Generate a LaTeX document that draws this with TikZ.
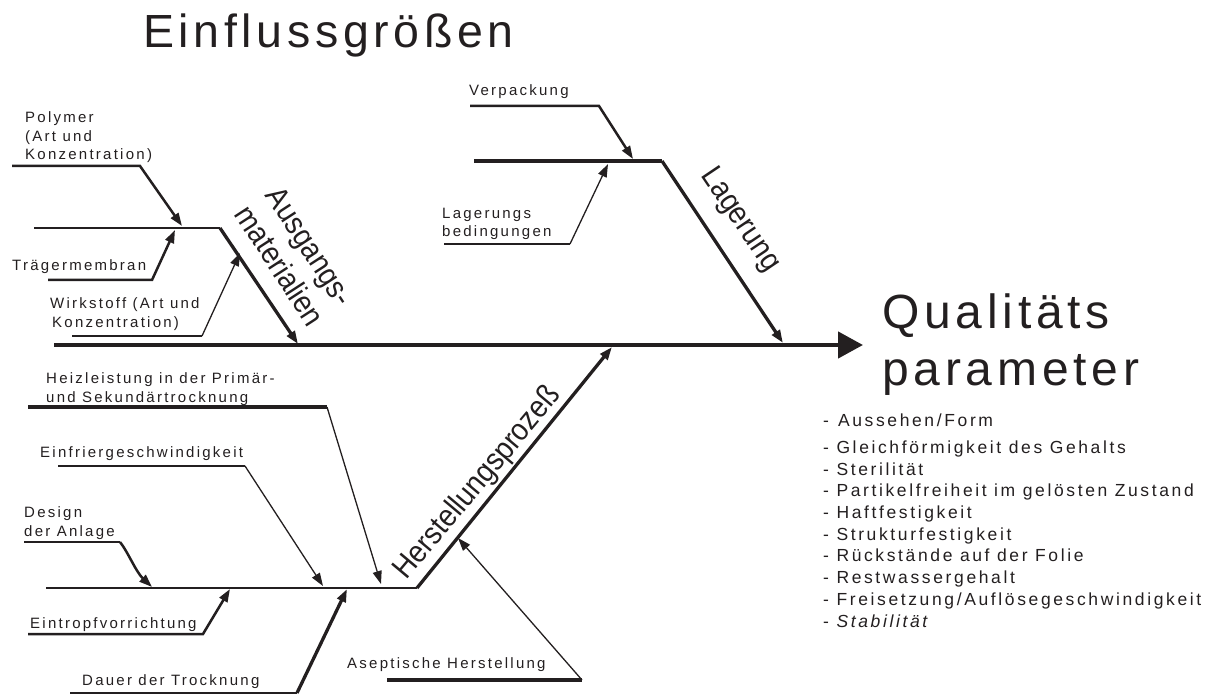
\documentclass[tikz,border=0pt]{standalone}
\usepackage{fontspec}
\setmainfont{Liberation Sans}
\newfontfamily\labfont[LetterSpace=15]{Liberation Sans}
\newfontfamily\bigfont[LetterSpace=10]{Liberation Sans}
\newfontfamily\catfont[FakeStretch=0.9]{Liberation Sans}
\usetikzlibrary{arrows.meta}
\definecolor{ink}{RGB}{35,31,32}
\tikzset{
  lab/.style={font=\labfont\fontsize{15}{18.5}\selectfont, inner sep=0pt, anchor=base west, align=left, text=ink},
  cat/.style={font=\catfont\fontsize{31}{36}\selectfont, inner sep=0pt, align=center, text=ink},
  arrowhd/.style={-{Triangle[length=13pt,width=9pt]}},
  thinl/.style={draw=ink, line width=1.3pt},
  midl/.style={draw=ink, line width=2.5pt},
  thickl/.style={draw=ink, line width=3.3pt},
  heavyl/.style={draw=ink, line width=4.5pt},
}
\begin{document}
\begin{tikzpicture}[x=1pt,y=-1pt]
\useasboundingbox (0,0) rectangle (1224,695);

% titles (base anchor of a multi-line node = baseline of its last line)
\node[font=\bigfont\fontsize{46.5}{50}\selectfont, inner sep=0pt, anchor=base west, text=ink] (title) at (143,48) {Einflussgrößen};
\node[font=\bigfont\fontsize{48}{57}\selectfont, inner sep=0pt, anchor=base west, align=left, text=ink] (qp) at (882,385) {Qualitäts\\parameter};
\node[font=\labfont\fontsize{17.5}{21.7}\selectfont, inner sep=0pt, anchor=base west, align=left, text=ink] (list) at (823,627)
 {-\hspace{9pt}Aussehen/Form\\[5pt]
  - Gleichförmigkeit des Gehalts\\
  - Sterilität\\
  - Partikelfreiheit im gelösten Zustand\\
  - Haftfestigkeit\\
  - Strukturfestigkeit\\
  - Rückstände auf der Folie\\
  - Restwassergehalt\\
  - Freisetzung/Auflösegeschwindigkeit\\
  - {\itshape Stabilität}};

% spine
\coordinate (m0) at (54,345);
\coordinate (m1) at (863,345);
\draw[heavyl, -{Triangle[length=25pt,width=26pt]}] (m0) -- (m1);

% Ausgangsmaterialien
\coordinate (a0) at (34,228); \coordinate (a1) at (220,228); \coordinate (a2) at (298,344);
\draw[midl] (a0) -- (a1);
\draw[thickl, arrowhd] (a1) -- (a2);
\node[cat, rotate=-57] (acat) at (295,256) {Ausgangs-\\materialien};

\coordinate (p0) at (12,166); \coordinate (p1) at (140,166); \coordinate (p2) at (182,226);
\draw[midl, arrowhd] (p0) -- (p1) -- (p2);
\node[lab] (poly) at (25,160) {Polymer\\(Art und\\Konzentration)};

\coordinate (t0) at (48,280); \coordinate (t1) at (152,280); \coordinate (t2) at (175,230);
\draw[midl, arrowhd] (t0) -- (t1) -- (t2);
\node[lab] (traeger) at (12,270) {Trägermembran};

\coordinate (w0) at (72,336); \coordinate (w1) at (202,336); \coordinate (w2) at (240,253);
\draw[midl] (w0) -- (w1);
\draw[thinl, arrowhd] (w1) -- (w2);
\node[lab] (wirk) at (50,327) {Wirkstoff (Art und\\\hspace{2pt}Konzentration)};

% Lagerung
\coordinate (l0) at (474,161); \coordinate (l1) at (662,161); \coordinate (l2) at (783,343);
\draw[heavyl] (l0) -- (l1);
\draw[thickl, arrowhd] (l1) -- (l2);
\node[cat, rotate=-56] (lcat) at (740,220) {Lagerung};

\coordinate (v0) at (470,106); \coordinate (v1) at (599,106); \coordinate (v2) at (633,159);
\draw[midl, arrowhd] (v0) -- (v1) -- (v2);
\node[lab] (verp) at (469,96) {Verpackung};

\coordinate (b0) at (444,244); \coordinate (b1) at (570,244); \coordinate (b2) at (608,164);
\draw[midl] (b0) -- (b1);
\draw[thinl, arrowhd] (b1) -- (b2);
\node[lab] (lagb) at (442,237) {Lagerungs\\bedingungen};

% Herstellungsprozess
\coordinate (h0) at (46,588); \coordinate (h1) at (417,588); \coordinate (h2) at (612,347);
\draw[midl] (h0) -- (h1);
\draw[thickl, arrowhd] (h1) -- (h2);
\node[cat, rotate=50] (hcat) at (478,483) {Herstellungsprozeß};

\coordinate (z0) at (28,407); \coordinate (z1) at (327,407); \coordinate (z2) at (381,584);
\draw[thickl] (z0) -- (z1);
\draw[thinl, arrowhd] (z1) -- (z2);
\node[lab] (heiz) at (46,402) {Heizleistung in der Primär-\\und Sekundärtrocknung};

\coordinate (e0) at (58,466); \coordinate (e1) at (245,466); \coordinate (e2) at (323,586);
\draw[midl] (e0) -- (e1);
\draw[thinl, arrowhd] (e1) -- (e2);
\node[lab] (einf) at (40,457) {Einfriergeschwindigkeit};

\coordinate (d0) at (24,542); \coordinate (d1) at (120,542); \coordinate (d2) at (152,587);
\draw[midl] (d0) -- (d1);
\draw[midl, arrowhd] (d1) .. controls (128,552) and (136,572) .. (d2);
\node[lab] (design) at (24,536) {Design\\der Anlage};

\coordinate (r0) at (28,634); \coordinate (r1) at (203,634); \coordinate (r2) at (230,589);
\draw[midl, arrowhd] (r0) -- (r1) -- (r2);
\node[lab] (eintr) at (30,628) {Eintropfvorrichtung};

\coordinate (u0) at (70,693); \coordinate (u1) at (297,693); \coordinate (u2) at (347,589);
\draw[midl] (u0) -- (u1);
\draw[thickl, arrowhd] (u1) -- (u2);
\node[lab] (dauer) at (82,685) {Dauer der Trocknung};

\coordinate (s0) at (387,680); \coordinate (s1) at (582,680); \coordinate (s2) at (458,538);
\draw[thickl] (s0) -- (s1);
\draw[thinl, arrowhd] (s1) -- (s2);
\node[lab] (asep) at (347,668) {Aseptische Herstellung};
\end{tikzpicture}
\end{document}
